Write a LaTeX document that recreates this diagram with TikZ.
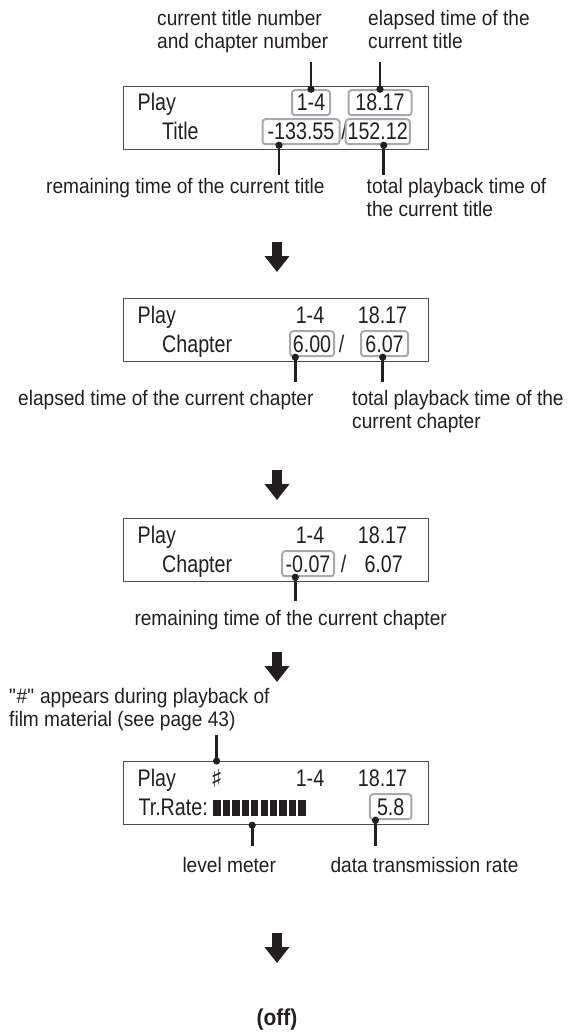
\documentclass[tikz,border=0pt]{standalone}
\usepackage{fontspec}
\setmainfont{Liberation Sans}[FakeStretch=0.91]
\newfontfamily\lcdfont{Liberation Sans}[FakeStretch=0.82]
\newfontfamily\symfont{DejaVu Sans}
\usetikzlibrary{arrows.meta}
\definecolor{ink}{HTML}{231F20}
\definecolor{framegray}{HTML}{4D4D4D}
\definecolor{hlgray}{HTML}{A7A9AC}
\tikzset{
    lcd/.style={draw=framegray, line width=1.2pt, minimum width=305pt, minimum height=63pt, inner sep=0pt, anchor=north},
    lcdtext/.style={font=\lcdfont\fontsize{24}{28}\selectfont, text=ink, inner sep=0pt, anchor=base west},
    value/.style={lcdtext, anchor=base},
    hl/.style={value, draw=hlgray, line width=2pt, rounded corners=3pt, minimum height=25pt, inner xsep=2pt},
    note/.style={font=\fontsize{21}{23.3}\selectfont, text=ink, inner sep=0pt, align=left},
    leader/.style={draw=ink, line width=2.6pt, {Circle[length=7pt]}-, shorten <=-3.5pt},
    flow/.style={draw=ink, line width=10pt, -{Triangle[width=24pt,length=16pt]}}
}
\begin{document}
\begin{tikzpicture}[x=1pt, y=1pt]
    \useasboundingbox (0,0) rectangle (567,-1032);

    % display 1: title times
    \node[lcd] (lcdA) at (276,-86) {};
    \node[lcdtext] (playA) at (137.5,-111) {Play};
    \node[lcdtext] (titleA) at (162,-140) {Title};
    \node[hl, minimum width=38pt] (numA) at (311,-111) {1-4};
    \node[hl, minimum width=63pt] (elapsedA) at (380,-111) {18.17};
    \node[hl, minimum width=77pt] (remainA) at (301,-140) {-133.55};
    \node[value] (slashA) at (344,-140) {/};
    \node[hl, minimum width=62pt] (totalA) at (377.7,-140) {152.12};

    % labels of display 1
    \node[note, anchor=north west] (numL) at (157,-10) {current title number\\and chapter number};
    \node[note, anchor=north west] (elapsedL) at (368,-10) {elapsed time of the\\current title};
    \node[note, anchor=north west] (remainL) at (46,-178) {remaining time of the current title};
    \node[note, anchor=north west] (totalL) at (366.5,-178) {total playback time of\\the current title};
    \draw[leader, shorten >=8.6pt] (numA.north) -- (numA.north |- numL.south);
    \draw[leader, shorten >=13pt] (elapsedA.north) -- (elapsedA.north |- elapsedL.south);
    \coordinate (remainP) at ([xshift=-22pt]remainA.south);
    \coordinate (totalP) at ([xshift=6pt]totalA.south);
    \draw[leader, shorten >=3pt] (remainP) -- (remainP |- remainL.north);
    \draw[leader, shorten >=3pt] (totalP) -- (totalP |- totalL.north);

    \coordinate (flowA1) at (277,-242);
    \coordinate (flowA2) at (277,-272);
    \draw[flow] (flowA1) -- (flowA2);

    % display 2: chapter times
    \node[lcd] (lcdB) at (276,-298) {};
    \node[lcdtext] (playB) at (137.5,-323) {Play};
    \node[lcdtext] (chapB) at (162,-352) {Chapter};
    \node[value] (numB) at (310,-323) {1-4};
    \node[value] (elapsedB) at (382.5,-323) {18.17};
    \node[hl, minimum width=44pt] (chelB) at (312,-352) {6.00};
    \node[value] (slashB) at (341.5,-352) {/};
    \node[hl, minimum width=47pt] (chtotB) at (384.5,-352) {6.07};

    \node[note, anchor=north west] (chelL) at (18,-390) {elapsed time of the current chapter};
    \node[note, anchor=north west] (chtotL) at (352,-390) {total playback time of the\\current chapter};
    \coordinate (chelP) at ([xshift=-16.7pt]chelB.south);
    \coordinate (chtotP) at ([xshift=-1.8pt]chtotB.south);
    \draw[leader, shorten >=7.6pt] (chelP) -- (chelP |- chelL.north);
    \draw[leader, shorten >=7.6pt] (chtotP) -- (chtotP |- chtotL.north);

    \coordinate (flowB1) at (277,-470);
    \coordinate (flowB2) at (277,-500);
    \draw[flow] (flowB1) -- (flowB2);

    % display 3: remaining chapter time
    \node[lcd] (lcdC) at (276,-518) {};
    \node[lcdtext] (playC) at (137.5,-543) {Play};
    \node[lcdtext] (chapC) at (162,-572) {Chapter};
    \node[value] (numC) at (310,-543) {1-4};
    \node[value] (elapsedC) at (382.5,-543) {18.17};
    \node[hl, minimum width=52pt] (chremC) at (308,-572) {-0.07};
    \node[value] (slashC) at (343.5,-572) {/};
    \node[value] (chtotC) at (383.7,-572) {6.07};

    \node[note, anchor=north west] (chremL) at (134.3,-610) {remaining time of the current chapter};
    \coordinate (chremP) at ([xshift=-12.7pt]chremC.south);
    \draw[leader, shorten >=8.6pt] (chremP) -- (chremP |- chremL.north);

    \coordinate (flowC1) at (277,-652);
    \coordinate (flowC2) at (277,-682);
    \draw[flow] (flowC1) -- (flowC2);

    % display 4: transmission rate
    \node[note, anchor=north west] (filmL) at (9,-688) {\textquotedbl\#\textquotedbl{} appears during playback of\\film material (see page 43)};
    \node[lcd] (lcdD) at (276,-761) {};
    \node[lcdtext] (playD) at (137.5,-786) {Play};
    \node[value, font=\symfont\bfseries\fontsize{25}{28}\selectfont] (sharpD) at (216.6,-787) {♯};
    \node[value] (numD) at (310,-786) {1-4};
    \node[value] (elapsedD) at (382.5,-786) {18.17};
    \node[lcdtext] (rateD) at (138.3,-815) {Tr.Rate:};
    \node[inner sep=0pt, minimum width=94.4pt, minimum height=15pt, anchor=south west] (meterD) at (213.3,-815.7) {};
    \foreach \i in {0,...,9}
        \fill[ink] ([xshift=9.44*\i pt]meterD.south west) rectangle ++(7.4,15.5);
    \node[hl, minimum width=41.5pt] (rateV) at (390.7,-815) {5.8};

    \node[note, anchor=north west] (levelL) at (182.3,-857) {level meter};
    \node[note, anchor=north west] (rateL) at (330.3,-857) {data transmission rate};
    \draw[leader, shorten >=3.6pt] (sharpD |- lcdD.north) -- (sharpD |- filmL.south);
    \coordinate (levelP) at ([xshift=-8.5pt]meterD.south);
    \draw[leader, shorten >=11pt] (levelP |- lcdD.south) -- (levelP |- levelL.north);
    \coordinate (rateP) at ([xshift=-15.2pt]rateV.south);
    \draw[leader, shorten >=11pt] (rateP) -- (rateP |- rateL.north);

    \coordinate (flowD1) at (277,-933);
    \coordinate (flowD2) at (277,-963);
    \draw[flow] (flowD1) -- (flowD2);

    \node[font=\bfseries\fontsize{23}{26}\selectfont, text=ink, inner sep=0pt, anchor=base] (offN) at (277,-1025) {(off)};
\end{tikzpicture}
\end{document}
